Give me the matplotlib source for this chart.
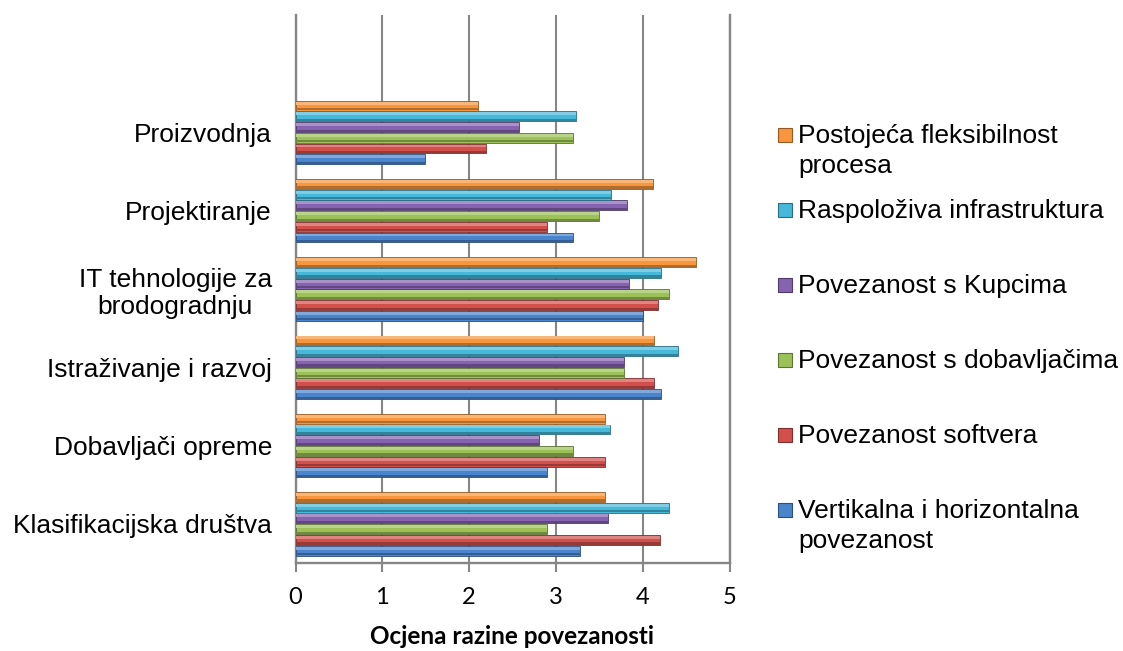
import matplotlib
matplotlib.use("Agg")
import matplotlib.pyplot as plt
import matplotlib.colors as mcolors
from matplotlib.patches import Rectangle
import numpy as np

# categories, bottom to top as drawn
categories = ["Klasifikacijska društva", "Dobavljači opreme", "Istraživanje i razvoj",
              "IT tehnologije za\nbrodogradnju", "Projektiranje", "Proizvodnja"]

# series, in drawing order (bottom bar of each group first)
series_names = ["Vertikalna i horizontalna\npovezanost", "Povezanost softvera",
                "Povezanost s dobavljačima", "Povezanost s Kupcima",
                "Raspoloživa infrastruktura", "Postojeća fleksibilnost\nprocesa"]
vertikalna = [3.28, 2.90, 4.21, 4.00, 3.20, 1.49]
softver = [4.20, 3.57, 4.13, 4.18, 2.90, 2.19]
dobavljaci = [2.90, 3.20, 3.79, 4.30, 3.50, 3.20]
kupci = [3.60, 2.80, 3.79, 3.84, 3.82, 2.58]
infrastruktura = [4.30, 3.62, 4.41, 4.21, 3.64, 3.23]
fleksibilnost = [3.56, 3.57, 4.13, 4.61, 4.12, 2.10]
values = [vertikalna, softver, dobavljaci, kupci, infrastruktura, fleksibilnost]

colors = ["#4A84CC", "#D24F4C", "#9BC157", "#8563B0", "#46B8DA", "#F7963C"]


def shade(c, f):
    r = np.array(mcolors.to_rgb(c))
    if f > 0:
        r = r + (1 - r) * f
    else:
        r = r * (1 + f)
    return tuple(r)


fig = plt.figure(figsize=(11.23, 6.51), dpi=100)
W, H = 1123, 651
ax = fig.add_axes([295.5 / W, 88 / H, 434 / W, 548 / H])

grey = "#868686"
y = np.arange(len(categories))
pitch = 0.137
h = 0.125

for k, (vals, c) in enumerate(zip(values, colors)):
    yy = y + (k - 2.5) * pitch
    ax.barh(yy, vals, height=h, color=c, edgecolor=shade(c, -0.4), linewidth=0.6, zorder=3)
    ax.barh(yy + h * 0.26, vals, height=h * 0.3, color=shade(c, 0.3), linewidth=0, zorder=4)
    ax.barh(yy - h * 0.36, vals, height=h * 0.22, color=shade(c, -0.28), linewidth=0, zorder=4)

ax.set_xlim(0, 5)
ax.set_ylim(-0.5, 6.5)
ax.set_xticks(range(6))
ax.set_yticks(y)
ax.set_yticklabels(categories, fontsize=19, family="Liberation Sans")
for lab in ax.get_yticklabels():
    lab.set_multialignment("center")
ax.tick_params(axis="y", length=0, pad=17)
ax.tick_params(axis="x", length=6.5, width=1.5, color=grey, pad=11, labelsize=17)
for lab in ax.get_xticklabels():
    lab.set_family("Lato")

ax.xaxis.grid(True, color=grey, linewidth=1.5, zorder=0)
ax.set_axisbelow(True)
ax.spines["top"].set_visible(False)
for s in ["left", "bottom", "right"]:
    ax.spines[s].set_color(grey)
    ax.spines[s].set_linewidth(1.7)

ax.set_xlabel("Ocjena razine povezanosti", fontsize=17.5, fontweight="bold",
              family="Lato", labelpad=12)

# legend, drawn by hand (Excel style, top entry = last series)
base_y = 143
step = 75
for i, (name, c) in enumerate(zip(series_names[::-1], colors[::-1])):
    by = base_y + i * step
    fig.patches.append(Rectangle((778 / W, 1 - (by - 1) / H), 14 / W, 14 / H,
                                 transform=fig.transFigure, facecolor=c,
                                 edgecolor=shade(c, -0.4), linewidth=0.8))
    for j, line in enumerate(name.split("\n")):
        fig.text(798 / W, 1 - (by + j * 30) / H, line, fontsize=19,
                 family="Liberation Sans", va="baseline", ha="left")

fig.savefig("out.png", dpi=100)
